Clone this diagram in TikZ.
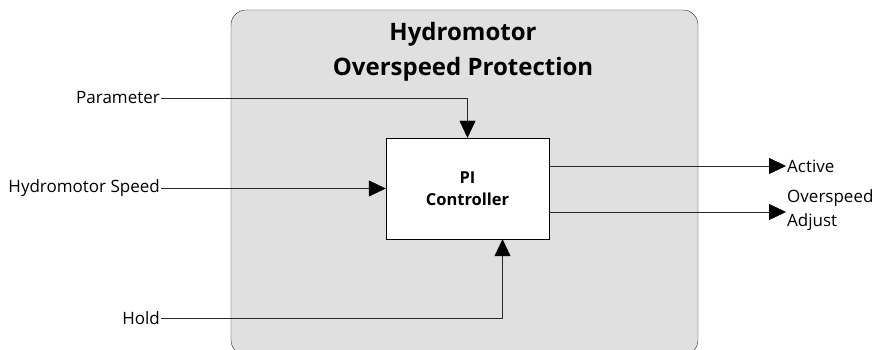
\documentclass[tikz,border=0pt]{standalone}
\usepackage{fontspec}
\setmainfont{Open Sans}
\definecolor{ProtGray}{RGB}{224,224,224}
\definecolor{LineGray}{RGB}{40,40,40}
\usetikzlibrary{positioning, arrows.meta}

\begin{document}
\begin{tikzpicture}[x=1pt, y=1pt, every node/.style={font=\fontsize{17}{19}\selectfont},
  group/.style={rectangle, rounded corners=15pt, draw=LineGray, fill=ProtGray, minimum width=467pt, minimum height=345pt},
  box/.style={rectangle, draw=black, fill=white, minimum width=163pt, minimum height=101pt, align=center, font=\fontsize{16.5}{22}\selectfont\bfseries},
  title/.style={align=center, font=\fontsize{24}{35}\selectfont\bfseries},
  signal/.style={inner sep=1pt, align=left},
  arrow/.style={-{Triangle[length=17pt, width=16pt, black]}, LineGray}
]
    \useasboundingbox (0,0) rectangle (873,350);
    \node[group] (prot) at (464.5,167.5) {};
    \node[title] (ptitle) at (463,298) {Hydromotor\\Overspeed Protection};
    \node[box] (ctrl) at (467.5,161.5) {PI\\Controller};

    \node[signal, anchor=east] (param) at (161,252) {Parameter};
    \node[signal, anchor=east] (speed) at (161,161.5) {Hydromotor Speed};
    \node[signal, anchor=east] (hold) at (161,32) {Hold};
    \node[signal, anchor=west] (active) at (786,184) {Active};
    \node[signal, anchor=west, font=\fontsize{17}{24}\selectfont] (adjust) at (786,140) {Overspeed\\Adjust};

    \draw[arrow] (param) -| (ctrl.north);
    \draw[arrow] (speed) -- (ctrl);
    \draw[arrow] (hold) -| ([xshift=35pt]ctrl.south);
    \draw[arrow] (ctrl.east |- active) -- (active);
    \draw[arrow] (ctrl.east |- 0,138) -- (active.west |- 0,138);
\end{tikzpicture}
\end{document}
